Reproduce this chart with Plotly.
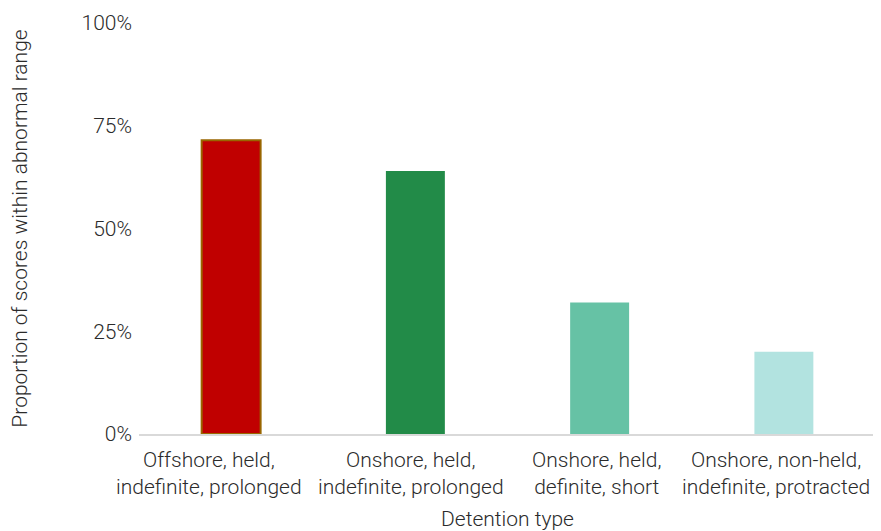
import plotly.graph_objects as go

categories = ["Offshore, held,<br>indefinite, prolonged",
              "Onshore, held,<br>indefinite, prolonged",
              "Onshore, held,<br>definite, short",
              "Onshore, non-held,<br>indefinite, protracted"]
values = [0.715, 0.64, 0.32, 0.20]
colors = ["#C00000", "#228B48", "#66C2A5", "#B2E3E0"]
line_colors = ["#996600", "rgba(0,0,0,0)", "rgba(0,0,0,0)", "rgba(0,0,0,0)"]
label_shift = [-22, -4, -3, -8]
y_ticks = [0, 0.25, 0.5, 0.75, 1.0]
y_tick_text = ["0%", "25%", "50%", "75%", "100%"]

fig = go.Figure(go.Bar(
    x=categories, y=values,
    marker=dict(color=colors, line=dict(color=line_colors, width=[2, 0, 0, 0])),
    width=0.32,
))

font = "Roboto, 'Noto Sans', sans-serif"
txt = "#2b2b2b"
fs = 21
fnt = dict(family=font, size=fs, color=txt, weight=300)
fig.update_layout(
    width=881, height=531,
    margin=dict(l=131, r=13, t=15, b=105, autoexpand=False),
    paper_bgcolor="white", plot_bgcolor="white",
    font=fnt,
    showlegend=False,
)
for cat, dx in zip(categories, label_shift):
    fig.add_annotation(x=cat, y=0, xref="x", yref="y", text=cat, showarrow=False,
                       yanchor="top", xanchor="center", align="center",
                       xshift=dx, yshift=-12, font=fnt)
fig.update_xaxes(
    range=[-0.5, len(categories) - 0.5],
    showline=True, linecolor="#D9D9D9", linewidth=2,
    ticks="", showticklabels=False,
    title=dict(text="Detention type", font=fnt, standoff=76),
    automargin=False,
)
fig.update_yaxes(
    range=[0, 1.0], tickvals=y_ticks, ticktext=y_tick_text,
    showgrid=False, zeroline=False, showline=False,
    ticks="", tickfont=fnt, ticklabelstandoff=6,
    title=dict(text="Proportion of scores within abnormal range",
               font=fnt, standoff=50),
    automargin=False,
)
fig.write_html("out.html")
